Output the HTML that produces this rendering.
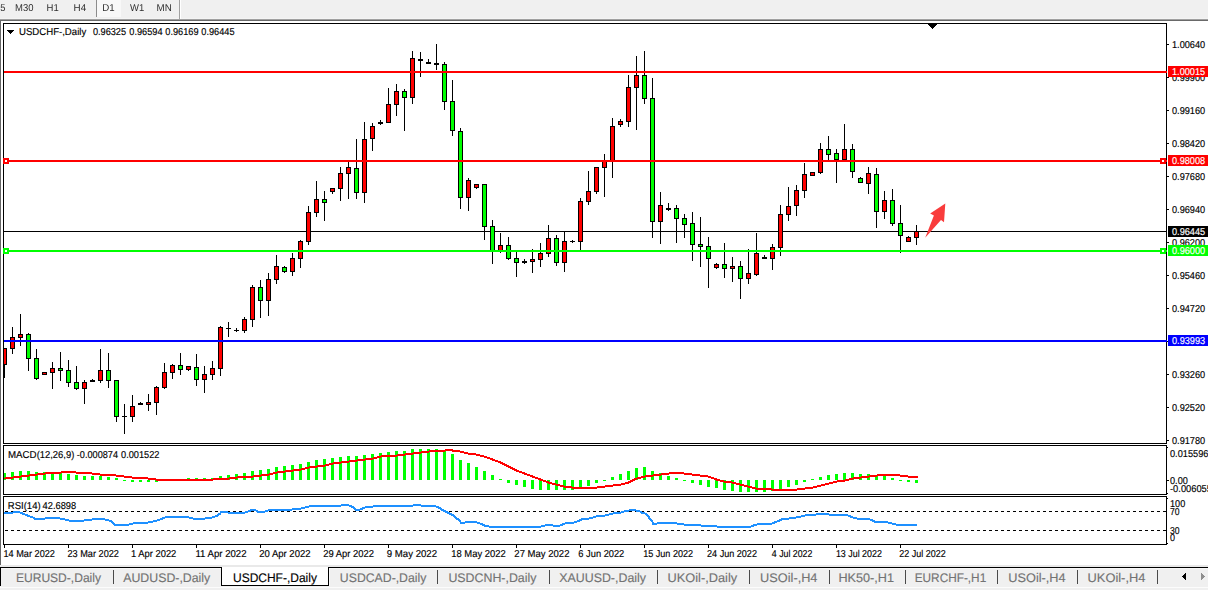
<!DOCTYPE html>
<html><head><meta charset="utf-8"><title>USDCHF-,Daily</title>
<style>
html,body{margin:0;padding:0;background:#fff;}
body{width:1208px;height:590px;overflow:hidden;font-family:"Liberation Sans",sans-serif;}
svg{display:block;}
svg text{font-family:"Liberation Sans",sans-serif;white-space:pre;}
</style></head>
<body>
<svg width="1208" height="590" viewBox="0 0 1208 590" shape-rendering="crispEdges" text-rendering="geometricPrecision">
<defs>
<filter id="gray" x="-5%" y="-20%" width="110%" height="140%" color-interpolation-filters="sRGB"><feColorMatrix type="saturate" values="0"/></filter>
<clipPath id="mainclip"><rect x="4" y="24" width="1162" height="419"/></clipPath>
<clipPath id="macdclip"><rect x="4" y="446" width="1162" height="48"/></clipPath>
<clipPath id="rsiclip"><rect x="4" y="497" width="1162" height="47"/></clipPath>
</defs>
<rect x="0" y="0" width="1208" height="590" fill="#fff"/>
<rect x="0" y="0" width="1208" height="19" fill="#f0f0f0"/>
<rect x="0" y="18" width="1208" height="1" fill="#f4f4f4"/>
<rect x="0" y="19" width="1208" height="1" fill="#a0a0a0"/>
<rect x="0" y="20" width="1208" height="1" fill="#696969"/>
<rect x="97" y="0" width="24" height="17" fill="#f8f8f8"/>
<rect x="96" y="0" width="1" height="17" fill="#8c8c8c"/>
<rect x="179" y="0" width="1" height="19" fill="#a0a0a0"/>
<rect x="180" y="0" width="1" height="19" fill="#fff"/>
<rect x="0" y="21" width="1" height="544" fill="#666"/>
<text x="0.3" y="11" font-size="10" fill="#2e2e2e" textLength="5.2" lengthAdjust="spacingAndGlyphs" filter="url(#gray)">5</text>
<text x="15" y="11" font-size="10" fill="#2e2e2e" textLength="18.4" lengthAdjust="spacingAndGlyphs" filter="url(#gray)">M30</text>
<text x="46.5" y="11" font-size="10" fill="#2e2e2e" textLength="12.2" lengthAdjust="spacingAndGlyphs" filter="url(#gray)">H1</text>
<text x="73.6" y="11" font-size="10" fill="#2e2e2e" textLength="12.6" lengthAdjust="spacingAndGlyphs" filter="url(#gray)">H4</text>
<text x="102.2" y="11" font-size="10" fill="#2e2e2e" textLength="12.4" lengthAdjust="spacingAndGlyphs" filter="url(#gray)">D1</text>
<text x="130.1" y="11" font-size="10" fill="#2e2e2e" textLength="14.2" lengthAdjust="spacingAndGlyphs" filter="url(#gray)">W1</text>
<text x="156.6" y="11" font-size="10" fill="#2e2e2e" textLength="15.2" lengthAdjust="spacingAndGlyphs" filter="url(#gray)">MN</text>
<g clip-path="url(#mainclip)">
<rect x="4" y="231" width="1162" height="1" fill="#000"/>
<rect x="4" y="348" width="1" height="30" fill="#000"/>
<rect x="2" y="348" width="5" height="17" fill="#000"/>
<rect x="3" y="349" width="3" height="15" fill="#f00"/>
<rect x="12" y="327" width="1" height="27" fill="#000"/>
<rect x="10" y="337" width="5" height="12" fill="#000"/>
<rect x="11" y="338" width="3" height="10" fill="#f00"/>
<rect x="20" y="314" width="1" height="32" fill="#000"/>
<rect x="18" y="334" width="5" height="4" fill="#000"/>
<rect x="19" y="335" width="3" height="2" fill="#f00"/>
<rect x="28" y="333" width="1" height="38" fill="#000"/>
<rect x="26" y="334" width="5" height="25" fill="#000"/>
<rect x="27" y="335" width="3" height="23" fill="#0f0"/>
<rect x="36" y="349" width="1" height="31" fill="#000"/>
<rect x="34" y="358" width="5" height="21" fill="#000"/>
<rect x="35" y="359" width="3" height="19" fill="#0f0"/>
<rect x="44" y="372" width="1" height="3" fill="#000"/>
<rect x="42" y="372" width="5" height="3" fill="#000"/>
<rect x="43" y="373" width="3" height="1" fill="#f00"/>
<rect x="52" y="362" width="1" height="27" fill="#000"/>
<rect x="50" y="368" width="5" height="5" fill="#000"/>
<rect x="51" y="369" width="3" height="3" fill="#f00"/>
<rect x="60" y="352" width="1" height="29" fill="#000"/>
<rect x="58" y="368" width="5" height="3" fill="#000"/>
<rect x="59" y="369" width="3" height="1" fill="#0f0"/>
<rect x="68" y="360" width="1" height="27" fill="#000"/>
<rect x="66" y="370" width="5" height="13" fill="#000"/>
<rect x="67" y="371" width="3" height="11" fill="#0f0"/>
<rect x="76" y="366" width="1" height="24" fill="#000"/>
<rect x="74" y="382" width="5" height="7" fill="#000"/>
<rect x="75" y="383" width="3" height="5" fill="#0f0"/>
<rect x="84" y="380" width="1" height="24" fill="#000"/>
<rect x="82" y="382" width="5" height="7" fill="#000"/>
<rect x="83" y="383" width="3" height="5" fill="#f00"/>
<rect x="92" y="379" width="1" height="3" fill="#000"/>
<rect x="90" y="380" width="5" height="2" fill="#000"/>
<rect x="100" y="349" width="1" height="34" fill="#000"/>
<rect x="98" y="370" width="5" height="11" fill="#000"/>
<rect x="99" y="371" width="3" height="9" fill="#f00"/>
<rect x="108" y="353" width="1" height="35" fill="#000"/>
<rect x="106" y="370" width="5" height="11" fill="#000"/>
<rect x="107" y="371" width="3" height="9" fill="#0f0"/>
<rect x="116" y="380" width="1" height="42" fill="#000"/>
<rect x="114" y="380" width="5" height="37" fill="#000"/>
<rect x="115" y="381" width="3" height="35" fill="#0f0"/>
<rect x="124" y="404" width="1" height="30" fill="#000"/>
<rect x="122" y="416" width="5" height="1" fill="#000"/>
<rect x="132" y="395" width="1" height="27" fill="#000"/>
<rect x="130" y="406" width="5" height="11" fill="#000"/>
<rect x="131" y="407" width="3" height="9" fill="#f00"/>
<rect x="140" y="402" width="1" height="3" fill="#000"/>
<rect x="138" y="403" width="5" height="2" fill="#000"/>
<rect x="148" y="394" width="1" height="17" fill="#000"/>
<rect x="146" y="402" width="5" height="3" fill="#000"/>
<rect x="147" y="403" width="3" height="1" fill="#f00"/>
<rect x="156" y="386" width="1" height="29" fill="#000"/>
<rect x="154" y="387" width="5" height="16" fill="#000"/>
<rect x="155" y="388" width="3" height="14" fill="#f00"/>
<rect x="164" y="363" width="1" height="26" fill="#000"/>
<rect x="162" y="372" width="5" height="16" fill="#000"/>
<rect x="163" y="373" width="3" height="14" fill="#f00"/>
<rect x="172" y="364" width="1" height="15" fill="#000"/>
<rect x="170" y="365" width="5" height="8" fill="#000"/>
<rect x="171" y="366" width="3" height="6" fill="#f00"/>
<rect x="180" y="353" width="1" height="22" fill="#000"/>
<rect x="178" y="365" width="5" height="5" fill="#000"/>
<rect x="179" y="366" width="3" height="3" fill="#0f0"/>
<rect x="188" y="366" width="1" height="5" fill="#000"/>
<rect x="186" y="366" width="5" height="4" fill="#000"/>
<rect x="187" y="367" width="3" height="2" fill="#f00"/>
<rect x="196" y="354" width="1" height="32" fill="#000"/>
<rect x="194" y="367" width="5" height="13" fill="#000"/>
<rect x="195" y="368" width="3" height="11" fill="#0f0"/>
<rect x="204" y="366" width="1" height="27" fill="#000"/>
<rect x="202" y="374" width="5" height="6" fill="#000"/>
<rect x="203" y="375" width="3" height="4" fill="#f00"/>
<rect x="212" y="361" width="1" height="19" fill="#000"/>
<rect x="210" y="368" width="5" height="7" fill="#000"/>
<rect x="211" y="369" width="3" height="5" fill="#f00"/>
<rect x="220" y="326" width="1" height="50" fill="#000"/>
<rect x="218" y="327" width="5" height="42" fill="#000"/>
<rect x="219" y="328" width="3" height="40" fill="#f00"/>
<rect x="228" y="322" width="1" height="15" fill="#000"/>
<rect x="226" y="328" width="5" height="1" fill="#000"/>
<rect x="236" y="328" width="1" height="4" fill="#000"/>
<rect x="234" y="330" width="5" height="1" fill="#000"/>
<rect x="244" y="317" width="1" height="16" fill="#000"/>
<rect x="242" y="319" width="5" height="12" fill="#000"/>
<rect x="243" y="320" width="3" height="10" fill="#f00"/>
<rect x="252" y="285" width="1" height="42" fill="#000"/>
<rect x="250" y="287" width="5" height="33" fill="#000"/>
<rect x="251" y="288" width="3" height="31" fill="#f00"/>
<rect x="260" y="280" width="1" height="38" fill="#000"/>
<rect x="258" y="287" width="5" height="14" fill="#000"/>
<rect x="259" y="288" width="3" height="12" fill="#0f0"/>
<rect x="268" y="273" width="1" height="43" fill="#000"/>
<rect x="266" y="279" width="5" height="22" fill="#000"/>
<rect x="267" y="280" width="3" height="20" fill="#f00"/>
<rect x="276" y="255" width="1" height="29" fill="#000"/>
<rect x="274" y="266" width="5" height="14" fill="#000"/>
<rect x="275" y="267" width="3" height="12" fill="#f00"/>
<rect x="284" y="266" width="1" height="7" fill="#000"/>
<rect x="282" y="267" width="5" height="5" fill="#000"/>
<rect x="283" y="268" width="3" height="3" fill="#0f0"/>
<rect x="292" y="253" width="1" height="23" fill="#000"/>
<rect x="290" y="258" width="5" height="14" fill="#000"/>
<rect x="291" y="259" width="3" height="12" fill="#f00"/>
<rect x="300" y="240" width="1" height="28" fill="#000"/>
<rect x="298" y="241" width="5" height="18" fill="#000"/>
<rect x="299" y="242" width="3" height="16" fill="#f00"/>
<rect x="308" y="206" width="1" height="39" fill="#000"/>
<rect x="306" y="212" width="5" height="30" fill="#000"/>
<rect x="307" y="213" width="3" height="28" fill="#f00"/>
<rect x="316" y="181" width="1" height="36" fill="#000"/>
<rect x="314" y="199" width="5" height="14" fill="#000"/>
<rect x="315" y="200" width="3" height="12" fill="#f00"/>
<rect x="324" y="191" width="1" height="30" fill="#000"/>
<rect x="322" y="199" width="5" height="4" fill="#000"/>
<rect x="323" y="200" width="3" height="2" fill="#0f0"/>
<rect x="332" y="188" width="1" height="6" fill="#000"/>
<rect x="330" y="188" width="5" height="4" fill="#000"/>
<rect x="331" y="189" width="3" height="2" fill="#f00"/>
<rect x="340" y="167" width="1" height="34" fill="#000"/>
<rect x="338" y="173" width="5" height="16" fill="#000"/>
<rect x="339" y="174" width="3" height="14" fill="#f00"/>
<rect x="348" y="162" width="1" height="37" fill="#000"/>
<rect x="346" y="167" width="5" height="7" fill="#000"/>
<rect x="347" y="168" width="3" height="5" fill="#f00"/>
<rect x="356" y="139" width="1" height="60" fill="#000"/>
<rect x="354" y="168" width="5" height="25" fill="#000"/>
<rect x="355" y="169" width="3" height="23" fill="#0f0"/>
<rect x="364" y="122" width="1" height="81" fill="#000"/>
<rect x="362" y="139" width="5" height="54" fill="#000"/>
<rect x="363" y="140" width="3" height="52" fill="#f00"/>
<rect x="372" y="123" width="1" height="28" fill="#000"/>
<rect x="370" y="126" width="5" height="13" fill="#000"/>
<rect x="371" y="127" width="3" height="11" fill="#f00"/>
<rect x="380" y="120" width="1" height="5" fill="#000"/>
<rect x="378" y="122" width="5" height="2" fill="#000"/>
<rect x="388" y="88" width="1" height="35" fill="#000"/>
<rect x="386" y="104" width="5" height="19" fill="#000"/>
<rect x="387" y="105" width="3" height="17" fill="#f00"/>
<rect x="396" y="84" width="1" height="32" fill="#000"/>
<rect x="394" y="91" width="5" height="14" fill="#000"/>
<rect x="395" y="92" width="3" height="12" fill="#f00"/>
<rect x="404" y="89" width="1" height="42" fill="#000"/>
<rect x="402" y="91" width="5" height="7" fill="#000"/>
<rect x="403" y="92" width="3" height="5" fill="#0f0"/>
<rect x="412" y="51" width="1" height="53" fill="#000"/>
<rect x="410" y="58" width="5" height="40" fill="#000"/>
<rect x="411" y="59" width="3" height="38" fill="#f00"/>
<rect x="420" y="52" width="1" height="25" fill="#000"/>
<rect x="418" y="59" width="5" height="2" fill="#000"/>
<rect x="428" y="59" width="1" height="5" fill="#000"/>
<rect x="426" y="62" width="5" height="2" fill="#000"/>
<rect x="436" y="44" width="1" height="26" fill="#000"/>
<rect x="434" y="63" width="5" height="2" fill="#000"/>
<rect x="444" y="62" width="1" height="48" fill="#000"/>
<rect x="442" y="64" width="5" height="38" fill="#000"/>
<rect x="443" y="65" width="3" height="36" fill="#0f0"/>
<rect x="452" y="80" width="1" height="56" fill="#000"/>
<rect x="450" y="101" width="5" height="30" fill="#000"/>
<rect x="451" y="102" width="3" height="28" fill="#0f0"/>
<rect x="460" y="128" width="1" height="81" fill="#000"/>
<rect x="458" y="131" width="5" height="67" fill="#000"/>
<rect x="459" y="132" width="3" height="65" fill="#0f0"/>
<rect x="468" y="178" width="1" height="33" fill="#000"/>
<rect x="466" y="180" width="5" height="18" fill="#000"/>
<rect x="467" y="181" width="3" height="16" fill="#f00"/>
<rect x="476" y="184" width="1" height="5" fill="#000"/>
<rect x="474" y="184" width="5" height="4" fill="#000"/>
<rect x="475" y="185" width="3" height="2" fill="#f00"/>
<rect x="484" y="184" width="1" height="56" fill="#000"/>
<rect x="482" y="184" width="5" height="43" fill="#000"/>
<rect x="483" y="185" width="3" height="41" fill="#0f0"/>
<rect x="492" y="220" width="1" height="44" fill="#000"/>
<rect x="490" y="226" width="5" height="25" fill="#000"/>
<rect x="491" y="227" width="3" height="23" fill="#0f0"/>
<rect x="500" y="233" width="1" height="20" fill="#000"/>
<rect x="498" y="245" width="5" height="6" fill="#000"/>
<rect x="499" y="246" width="3" height="4" fill="#f00"/>
<rect x="508" y="237" width="1" height="23" fill="#000"/>
<rect x="506" y="245" width="5" height="14" fill="#000"/>
<rect x="507" y="246" width="3" height="12" fill="#0f0"/>
<rect x="516" y="252" width="1" height="25" fill="#000"/>
<rect x="514" y="258" width="5" height="5" fill="#000"/>
<rect x="515" y="259" width="3" height="3" fill="#0f0"/>
<rect x="524" y="259" width="1" height="5" fill="#000"/>
<rect x="522" y="261" width="5" height="2" fill="#000"/>
<rect x="532" y="249" width="1" height="24" fill="#000"/>
<rect x="530" y="259" width="5" height="3" fill="#000"/>
<rect x="531" y="260" width="3" height="1" fill="#f00"/>
<rect x="540" y="243" width="1" height="24" fill="#000"/>
<rect x="538" y="253" width="5" height="7" fill="#000"/>
<rect x="539" y="254" width="3" height="5" fill="#f00"/>
<rect x="548" y="225" width="1" height="32" fill="#000"/>
<rect x="546" y="238" width="5" height="16" fill="#000"/>
<rect x="547" y="239" width="3" height="14" fill="#f00"/>
<rect x="556" y="235" width="1" height="31" fill="#000"/>
<rect x="554" y="238" width="5" height="25" fill="#000"/>
<rect x="555" y="239" width="3" height="23" fill="#0f0"/>
<rect x="564" y="232" width="1" height="40" fill="#000"/>
<rect x="562" y="241" width="5" height="22" fill="#000"/>
<rect x="563" y="242" width="3" height="20" fill="#f00"/>
<rect x="572" y="240" width="1" height="3" fill="#000"/>
<rect x="570" y="241" width="5" height="1" fill="#000"/>
<rect x="580" y="198" width="1" height="52" fill="#000"/>
<rect x="578" y="201" width="5" height="41" fill="#000"/>
<rect x="579" y="202" width="3" height="39" fill="#f00"/>
<rect x="588" y="171" width="1" height="34" fill="#000"/>
<rect x="586" y="191" width="5" height="11" fill="#000"/>
<rect x="587" y="192" width="3" height="9" fill="#f00"/>
<rect x="596" y="167" width="1" height="27" fill="#000"/>
<rect x="594" y="167" width="5" height="25" fill="#000"/>
<rect x="595" y="168" width="3" height="23" fill="#f00"/>
<rect x="604" y="154" width="1" height="43" fill="#000"/>
<rect x="602" y="160" width="5" height="8" fill="#000"/>
<rect x="603" y="161" width="3" height="6" fill="#f00"/>
<rect x="612" y="118" width="1" height="60" fill="#000"/>
<rect x="610" y="126" width="5" height="36" fill="#000"/>
<rect x="611" y="127" width="3" height="34" fill="#f00"/>
<rect x="620" y="119" width="1" height="8" fill="#000"/>
<rect x="618" y="121" width="5" height="4" fill="#000"/>
<rect x="619" y="122" width="3" height="2" fill="#f00"/>
<rect x="628" y="75" width="1" height="52" fill="#000"/>
<rect x="626" y="87" width="5" height="35" fill="#000"/>
<rect x="627" y="88" width="3" height="33" fill="#f00"/>
<rect x="636" y="56" width="1" height="74" fill="#000"/>
<rect x="634" y="75" width="5" height="13" fill="#000"/>
<rect x="635" y="76" width="3" height="11" fill="#f00"/>
<rect x="644" y="51" width="1" height="53" fill="#000"/>
<rect x="642" y="75" width="5" height="24" fill="#000"/>
<rect x="643" y="76" width="3" height="22" fill="#0f0"/>
<rect x="652" y="78" width="1" height="160" fill="#000"/>
<rect x="650" y="98" width="5" height="124" fill="#000"/>
<rect x="651" y="99" width="3" height="122" fill="#0f0"/>
<rect x="660" y="192" width="1" height="52" fill="#000"/>
<rect x="658" y="205" width="5" height="17" fill="#000"/>
<rect x="659" y="206" width="3" height="15" fill="#f00"/>
<rect x="668" y="203" width="1" height="8" fill="#000"/>
<rect x="666" y="208" width="5" height="2" fill="#000"/>
<rect x="676" y="205" width="1" height="38" fill="#000"/>
<rect x="674" y="208" width="5" height="11" fill="#000"/>
<rect x="675" y="209" width="3" height="9" fill="#0f0"/>
<rect x="684" y="214" width="1" height="24" fill="#000"/>
<rect x="682" y="218" width="5" height="7" fill="#000"/>
<rect x="683" y="219" width="3" height="5" fill="#0f0"/>
<rect x="692" y="212" width="1" height="49" fill="#000"/>
<rect x="690" y="223" width="5" height="22" fill="#000"/>
<rect x="691" y="224" width="3" height="20" fill="#0f0"/>
<rect x="700" y="217" width="1" height="50" fill="#000"/>
<rect x="698" y="244" width="5" height="3" fill="#000"/>
<rect x="699" y="245" width="3" height="1" fill="#0f0"/>
<rect x="708" y="237" width="1" height="51" fill="#000"/>
<rect x="706" y="246" width="5" height="13" fill="#000"/>
<rect x="707" y="247" width="3" height="11" fill="#0f0"/>
<rect x="716" y="263" width="1" height="6" fill="#000"/>
<rect x="714" y="264" width="5" height="4" fill="#000"/>
<rect x="715" y="265" width="3" height="2" fill="#f00"/>
<rect x="724" y="243" width="1" height="35" fill="#000"/>
<rect x="722" y="264" width="5" height="5" fill="#000"/>
<rect x="723" y="265" width="3" height="3" fill="#0f0"/>
<rect x="732" y="257" width="1" height="25" fill="#000"/>
<rect x="730" y="266" width="5" height="3" fill="#000"/>
<rect x="731" y="267" width="3" height="1" fill="#f00"/>
<rect x="740" y="261" width="1" height="38" fill="#000"/>
<rect x="738" y="266" width="5" height="13" fill="#000"/>
<rect x="739" y="267" width="3" height="11" fill="#0f0"/>
<rect x="748" y="249" width="1" height="35" fill="#000"/>
<rect x="746" y="273" width="5" height="6" fill="#000"/>
<rect x="747" y="274" width="3" height="4" fill="#f00"/>
<rect x="756" y="233" width="1" height="43" fill="#000"/>
<rect x="754" y="253" width="5" height="22" fill="#000"/>
<rect x="755" y="254" width="3" height="20" fill="#f00"/>
<rect x="764" y="255" width="1" height="4" fill="#000"/>
<rect x="762" y="257" width="5" height="2" fill="#000"/>
<rect x="772" y="244" width="1" height="26" fill="#000"/>
<rect x="770" y="247" width="5" height="12" fill="#000"/>
<rect x="771" y="248" width="3" height="10" fill="#f00"/>
<rect x="780" y="205" width="1" height="51" fill="#000"/>
<rect x="778" y="214" width="5" height="34" fill="#000"/>
<rect x="779" y="215" width="3" height="32" fill="#f00"/>
<rect x="788" y="187" width="1" height="34" fill="#000"/>
<rect x="786" y="206" width="5" height="9" fill="#000"/>
<rect x="787" y="207" width="3" height="7" fill="#f00"/>
<rect x="796" y="185" width="1" height="31" fill="#000"/>
<rect x="794" y="190" width="5" height="16" fill="#000"/>
<rect x="795" y="191" width="3" height="14" fill="#f00"/>
<rect x="804" y="163" width="1" height="35" fill="#000"/>
<rect x="802" y="174" width="5" height="17" fill="#000"/>
<rect x="803" y="175" width="3" height="15" fill="#f00"/>
<rect x="812" y="172" width="1" height="4" fill="#000"/>
<rect x="810" y="172" width="5" height="4" fill="#000"/>
<rect x="811" y="173" width="3" height="2" fill="#f00"/>
<rect x="820" y="143" width="1" height="31" fill="#000"/>
<rect x="818" y="149" width="5" height="24" fill="#000"/>
<rect x="819" y="150" width="3" height="22" fill="#f00"/>
<rect x="828" y="136" width="1" height="24" fill="#000"/>
<rect x="826" y="149" width="5" height="6" fill="#000"/>
<rect x="827" y="150" width="3" height="4" fill="#0f0"/>
<rect x="836" y="149" width="1" height="34" fill="#000"/>
<rect x="834" y="153" width="5" height="7" fill="#000"/>
<rect x="835" y="154" width="3" height="5" fill="#0f0"/>
<rect x="844" y="124" width="1" height="36" fill="#000"/>
<rect x="842" y="149" width="5" height="11" fill="#000"/>
<rect x="843" y="150" width="3" height="9" fill="#f00"/>
<rect x="852" y="144" width="1" height="34" fill="#000"/>
<rect x="850" y="149" width="5" height="23" fill="#000"/>
<rect x="851" y="150" width="3" height="21" fill="#0f0"/>
<rect x="860" y="177" width="1" height="6" fill="#000"/>
<rect x="858" y="178" width="5" height="5" fill="#000"/>
<rect x="859" y="179" width="3" height="3" fill="#0f0"/>
<rect x="868" y="167" width="1" height="27" fill="#000"/>
<rect x="866" y="173" width="5" height="11" fill="#000"/>
<rect x="867" y="174" width="3" height="9" fill="#f00"/>
<rect x="876" y="168" width="1" height="60" fill="#000"/>
<rect x="874" y="174" width="5" height="38" fill="#000"/>
<rect x="875" y="175" width="3" height="36" fill="#0f0"/>
<rect x="884" y="191" width="1" height="28" fill="#000"/>
<rect x="882" y="200" width="5" height="12" fill="#000"/>
<rect x="883" y="201" width="3" height="10" fill="#f00"/>
<rect x="892" y="189" width="1" height="37" fill="#000"/>
<rect x="890" y="200" width="5" height="24" fill="#000"/>
<rect x="891" y="201" width="3" height="22" fill="#0f0"/>
<rect x="900" y="205" width="1" height="48" fill="#000"/>
<rect x="898" y="223" width="5" height="13" fill="#000"/>
<rect x="899" y="224" width="3" height="11" fill="#0f0"/>
<rect x="908" y="236" width="1" height="6" fill="#000"/>
<rect x="906" y="237" width="5" height="5" fill="#000"/>
<rect x="907" y="238" width="3" height="3" fill="#f00"/>
<rect x="916" y="225" width="1" height="20" fill="#000"/>
<rect x="914" y="231" width="5" height="7" fill="#000"/>
<rect x="915" y="232" width="3" height="5" fill="#f00"/>
<polygon points="945.3,203.6 944,222.2 941,220 925.2,237.8 933.9,215.6 930.2,213.6" fill="#f93c3c" shape-rendering="geometricPrecision"/>
</g>
<rect x="3" y="23" width="1164" height="1" fill="#000"/>
<rect x="3" y="443" width="1164" height="1" fill="#000"/>
<rect x="3" y="23" width="1" height="421" fill="#000"/>
<rect x="1166" y="23" width="1" height="421" fill="#000"/>
<rect x="3" y="445" width="1164" height="1" fill="#000"/>
<rect x="3" y="494" width="1164" height="1" fill="#000"/>
<rect x="3" y="445" width="1" height="50" fill="#000"/>
<rect x="1166" y="445" width="1" height="50" fill="#000"/>
<rect x="3" y="496" width="1164" height="1" fill="#000"/>
<rect x="3" y="544" width="1164" height="1" fill="#000"/>
<rect x="3" y="496" width="1" height="49" fill="#000"/>
<rect x="1166" y="496" width="1" height="49" fill="#000"/>
<rect x="4" y="71" width="1163" height="2" fill="#f00"/>
<rect x="4" y="160" width="1163" height="2" fill="#f00"/>
<rect x="4" y="250" width="1163" height="2" fill="#0f0"/>
<rect x="4" y="340" width="1163" height="2" fill="#00f"/>
<rect x="1160" y="158" width="6" height="6" fill="#f00"/>
<rect x="1162" y="160" width="2" height="2" fill="#fff"/>
<rect x="1160" y="248" width="6" height="6" fill="#0f0"/>
<rect x="1162" y="250" width="2" height="2" fill="#fff"/>
<rect x="3" y="158" width="6" height="6" fill="#f00"/>
<rect x="5" y="160" width="2" height="2" fill="#fff"/>
<rect x="3" y="248" width="6" height="6" fill="#0f0"/>
<rect x="5" y="250" width="2" height="2" fill="#fff"/>
<rect x="928" y="24" width="9" height="1" fill="#000"/>
<rect x="929" y="25" width="7" height="1" fill="#000"/>
<rect x="930" y="26" width="5" height="1" fill="#000"/>
<rect x="931" y="27" width="3" height="1" fill="#000"/>
<rect x="932" y="28" width="1" height="1" fill="#000"/>
<rect x="7" y="30" width="7" height="1" fill="#000"/>
<rect x="8" y="31" width="5" height="1" fill="#000"/>
<rect x="9" y="32" width="3" height="1" fill="#000"/>
<rect x="10" y="33" width="1" height="1" fill="#000"/>
<text x="19" y="35" font-size="10" fill="#000" stroke="#000" stroke-width="0.15" textLength="67.2" lengthAdjust="spacingAndGlyphs">USDCHF-,Daily</text>
<text x="92.9" y="35" font-size="10" fill="#000" stroke="#000" stroke-width="0.15" textLength="33.2" lengthAdjust="spacingAndGlyphs">0.96325</text>
<text x="129.3" y="35" font-size="10" fill="#000" stroke="#000" stroke-width="0.15" textLength="33.2" lengthAdjust="spacingAndGlyphs">0.96594</text>
<text x="165.3" y="35" font-size="10" fill="#000" stroke="#000" stroke-width="0.15" textLength="33.2" lengthAdjust="spacingAndGlyphs">0.96169</text>
<text x="201.3" y="35" font-size="10" fill="#000" stroke="#000" stroke-width="0.15" textLength="33.2" lengthAdjust="spacingAndGlyphs">0.96445</text>
<rect x="1167" y="44" width="2" height="1" fill="#000"/>
<text x="1172" y="48" font-size="10" fill="#000" stroke="#000" stroke-width="0.15" textLength="33.2" lengthAdjust="spacingAndGlyphs">1.00640</text>
<rect x="1167" y="77" width="2" height="1" fill="#000"/>
<text x="1172" y="81" font-size="10" fill="#000" stroke="#000" stroke-width="0.15" textLength="33.2" lengthAdjust="spacingAndGlyphs">0.99900</text>
<rect x="1167" y="110" width="2" height="1" fill="#000"/>
<text x="1172" y="114" font-size="10" fill="#000" stroke="#000" stroke-width="0.15" textLength="33.2" lengthAdjust="spacingAndGlyphs">0.99160</text>
<rect x="1167" y="143" width="2" height="1" fill="#000"/>
<text x="1172" y="147" font-size="10" fill="#000" stroke="#000" stroke-width="0.15" textLength="33.2" lengthAdjust="spacingAndGlyphs">0.98420</text>
<rect x="1167" y="176" width="2" height="1" fill="#000"/>
<text x="1172" y="180" font-size="10" fill="#000" stroke="#000" stroke-width="0.15" textLength="33.2" lengthAdjust="spacingAndGlyphs">0.97680</text>
<rect x="1167" y="209" width="2" height="1" fill="#000"/>
<text x="1172" y="213" font-size="10" fill="#000" stroke="#000" stroke-width="0.15" textLength="33.2" lengthAdjust="spacingAndGlyphs">0.96940</text>
<rect x="1167" y="242" width="2" height="1" fill="#000"/>
<text x="1172" y="246" font-size="10" fill="#000" stroke="#000" stroke-width="0.15" textLength="33.2" lengthAdjust="spacingAndGlyphs">0.96200</text>
<rect x="1167" y="275" width="2" height="1" fill="#000"/>
<text x="1172" y="279" font-size="10" fill="#000" stroke="#000" stroke-width="0.15" textLength="33.2" lengthAdjust="spacingAndGlyphs">0.95460</text>
<rect x="1167" y="308" width="2" height="1" fill="#000"/>
<text x="1172" y="312" font-size="10" fill="#000" stroke="#000" stroke-width="0.15" textLength="33.2" lengthAdjust="spacingAndGlyphs">0.94720</text>
<rect x="1167" y="341" width="2" height="1" fill="#000"/>
<text x="1172" y="345" font-size="10" fill="#000" stroke="#000" stroke-width="0.15" textLength="33.2" lengthAdjust="spacingAndGlyphs">0.93980</text>
<rect x="1167" y="374" width="2" height="1" fill="#000"/>
<text x="1172" y="378" font-size="10" fill="#000" stroke="#000" stroke-width="0.15" textLength="33.2" lengthAdjust="spacingAndGlyphs">0.93260</text>
<rect x="1167" y="407" width="2" height="1" fill="#000"/>
<text x="1172" y="411" font-size="10" fill="#000" stroke="#000" stroke-width="0.15" textLength="33.2" lengthAdjust="spacingAndGlyphs">0.92520</text>
<rect x="1167" y="440" width="2" height="1" fill="#000"/>
<text x="1172" y="444" font-size="10" fill="#000" stroke="#000" stroke-width="0.15" textLength="33.2" lengthAdjust="spacingAndGlyphs">0.91780</text>
<rect x="1168" y="66" width="40" height="11" fill="#f00"/>
<text x="1172" y="75" font-size="10" fill="#fff" stroke="#fff" stroke-width="0.15" textLength="33.2" lengthAdjust="spacingAndGlyphs">1.00015</text>
<rect x="1168" y="155" width="40" height="11" fill="#f00"/>
<text x="1172" y="164" font-size="10" fill="#fff" stroke="#fff" stroke-width="0.15" textLength="33.2" lengthAdjust="spacingAndGlyphs">0.98008</text>
<rect x="1168" y="226" width="40" height="11" fill="#000"/>
<text x="1172" y="235" font-size="10" fill="#fff" stroke="#fff" stroke-width="0.15" textLength="33.2" lengthAdjust="spacingAndGlyphs">0.96445</text>
<rect x="1168" y="245" width="40" height="11" fill="#0f0"/>
<text x="1172" y="254" font-size="10" fill="#fff" stroke="#fff" stroke-width="0.15" textLength="33.2" lengthAdjust="spacingAndGlyphs">0.96000</text>
<rect x="1168" y="335" width="40" height="11" fill="#00f"/>
<text x="1172" y="344" font-size="10" fill="#fff" stroke="#fff" stroke-width="0.15" textLength="33.2" lengthAdjust="spacingAndGlyphs">0.93993</text>
<text x="8" y="458" font-size="10" fill="#000" stroke="#000" stroke-width="0.15" textLength="28.6" lengthAdjust="spacingAndGlyphs">MACD</text>
<text x="36.7" y="458" font-size="10" fill="#000" stroke="#000" stroke-width="0.15" textLength="37.6" lengthAdjust="spacingAndGlyphs">(12,26,9)</text>
<text x="76.8" y="458" font-size="10" fill="#000" stroke="#000" stroke-width="0.15" textLength="41.2" lengthAdjust="spacingAndGlyphs">-0.000874</text>
<text x="121" y="458" font-size="10" fill="#000" stroke="#000" stroke-width="0.15" textLength="38.5" lengthAdjust="spacingAndGlyphs">0.001522</text>
<g clip-path="url(#macdclip)">
<rect x="3" y="473" width="3" height="7" fill="#0f0"/>
<rect x="11" y="472" width="3" height="8" fill="#0f0"/>
<rect x="19" y="471" width="3" height="9" fill="#0f0"/>
<rect x="27" y="471" width="3" height="9" fill="#0f0"/>
<rect x="35" y="472" width="3" height="8" fill="#0f0"/>
<rect x="43" y="472" width="3" height="8" fill="#0f0"/>
<rect x="51" y="473" width="3" height="7" fill="#0f0"/>
<rect x="59" y="473" width="3" height="7" fill="#0f0"/>
<rect x="67" y="474" width="3" height="6" fill="#0f0"/>
<rect x="75" y="475" width="3" height="5" fill="#0f0"/>
<rect x="83" y="476" width="3" height="4" fill="#0f0"/>
<rect x="91" y="476" width="3" height="4" fill="#0f0"/>
<rect x="99" y="476" width="3" height="4" fill="#0f0"/>
<rect x="107" y="477" width="3" height="3" fill="#0f0"/>
<rect x="115" y="478" width="3" height="2" fill="#0f0"/>
<rect x="123" y="480" width="3" height="1" fill="#0f0"/>
<rect x="131" y="480" width="3" height="2" fill="#0f0"/>
<rect x="139" y="480" width="3" height="2" fill="#0f0"/>
<rect x="147" y="480" width="3" height="2" fill="#0f0"/>
<rect x="155" y="480" width="3" height="2" fill="#0f0"/>
<rect x="187" y="478" width="3" height="2" fill="#0f0"/>
<rect x="195" y="478" width="3" height="2" fill="#0f0"/>
<rect x="203" y="478" width="3" height="2" fill="#0f0"/>
<rect x="211" y="478" width="3" height="2" fill="#0f0"/>
<rect x="219" y="476" width="3" height="4" fill="#0f0"/>
<rect x="227" y="475" width="3" height="5" fill="#0f0"/>
<rect x="235" y="474" width="3" height="6" fill="#0f0"/>
<rect x="243" y="473" width="3" height="7" fill="#0f0"/>
<rect x="251" y="471" width="3" height="9" fill="#0f0"/>
<rect x="259" y="470" width="3" height="10" fill="#0f0"/>
<rect x="267" y="469" width="3" height="11" fill="#0f0"/>
<rect x="275" y="467" width="3" height="13" fill="#0f0"/>
<rect x="283" y="466" width="3" height="14" fill="#0f0"/>
<rect x="291" y="465" width="3" height="15" fill="#0f0"/>
<rect x="299" y="464" width="3" height="16" fill="#0f0"/>
<rect x="307" y="462" width="3" height="18" fill="#0f0"/>
<rect x="315" y="460" width="3" height="20" fill="#0f0"/>
<rect x="323" y="459" width="3" height="21" fill="#0f0"/>
<rect x="331" y="458" width="3" height="22" fill="#0f0"/>
<rect x="339" y="457" width="3" height="23" fill="#0f0"/>
<rect x="347" y="456" width="3" height="24" fill="#0f0"/>
<rect x="355" y="456" width="3" height="24" fill="#0f0"/>
<rect x="363" y="455" width="3" height="25" fill="#0f0"/>
<rect x="371" y="454" width="3" height="26" fill="#0f0"/>
<rect x="379" y="453" width="3" height="27" fill="#0f0"/>
<rect x="387" y="452" width="3" height="28" fill="#0f0"/>
<rect x="395" y="451" width="3" height="29" fill="#0f0"/>
<rect x="403" y="451" width="3" height="29" fill="#0f0"/>
<rect x="411" y="449" width="3" height="31" fill="#0f0"/>
<rect x="419" y="449" width="3" height="31" fill="#0f0"/>
<rect x="427" y="449" width="3" height="31" fill="#0f0"/>
<rect x="435" y="449" width="3" height="31" fill="#0f0"/>
<rect x="443" y="450" width="3" height="30" fill="#0f0"/>
<rect x="451" y="454" width="3" height="26" fill="#0f0"/>
<rect x="459" y="460" width="3" height="20" fill="#0f0"/>
<rect x="467" y="463" width="3" height="17" fill="#0f0"/>
<rect x="475" y="467" width="3" height="13" fill="#0f0"/>
<rect x="483" y="471" width="3" height="9" fill="#0f0"/>
<rect x="491" y="475" width="3" height="5" fill="#0f0"/>
<rect x="499" y="479" width="3" height="1" fill="#0f0"/>
<rect x="507" y="480" width="3" height="3" fill="#0f0"/>
<rect x="515" y="480" width="3" height="5" fill="#0f0"/>
<rect x="523" y="480" width="3" height="7" fill="#0f0"/>
<rect x="531" y="480" width="3" height="9" fill="#0f0"/>
<rect x="539" y="480" width="3" height="10" fill="#0f0"/>
<rect x="547" y="480" width="3" height="10" fill="#0f0"/>
<rect x="555" y="480" width="3" height="10" fill="#0f0"/>
<rect x="563" y="480" width="3" height="10" fill="#0f0"/>
<rect x="571" y="480" width="3" height="10" fill="#0f0"/>
<rect x="579" y="480" width="3" height="7" fill="#0f0"/>
<rect x="587" y="480" width="3" height="6" fill="#0f0"/>
<rect x="595" y="480" width="3" height="3" fill="#0f0"/>
<rect x="603" y="480" width="3" height="1" fill="#0f0"/>
<rect x="611" y="477" width="3" height="3" fill="#0f0"/>
<rect x="619" y="474" width="3" height="6" fill="#0f0"/>
<rect x="627" y="471" width="3" height="9" fill="#0f0"/>
<rect x="635" y="468" width="3" height="12" fill="#0f0"/>
<rect x="643" y="467" width="3" height="13" fill="#0f0"/>
<rect x="651" y="471" width="3" height="9" fill="#0f0"/>
<rect x="659" y="473" width="3" height="7" fill="#0f0"/>
<rect x="667" y="476" width="3" height="4" fill="#0f0"/>
<rect x="675" y="478" width="3" height="2" fill="#0f0"/>
<rect x="683" y="480" width="3" height="1" fill="#0f0"/>
<rect x="691" y="480" width="3" height="3" fill="#0f0"/>
<rect x="699" y="480" width="3" height="5" fill="#0f0"/>
<rect x="707" y="480" width="3" height="7" fill="#0f0"/>
<rect x="715" y="480" width="3" height="8" fill="#0f0"/>
<rect x="723" y="480" width="3" height="10" fill="#0f0"/>
<rect x="731" y="480" width="3" height="11" fill="#0f0"/>
<rect x="739" y="480" width="3" height="12" fill="#0f0"/>
<rect x="747" y="480" width="3" height="12" fill="#0f0"/>
<rect x="755" y="480" width="3" height="12" fill="#0f0"/>
<rect x="763" y="480" width="3" height="12" fill="#0f0"/>
<rect x="771" y="480" width="3" height="11" fill="#0f0"/>
<rect x="779" y="480" width="3" height="9" fill="#0f0"/>
<rect x="787" y="480" width="3" height="7" fill="#0f0"/>
<rect x="795" y="480" width="3" height="5" fill="#0f0"/>
<rect x="803" y="480" width="3" height="2" fill="#0f0"/>
<rect x="811" y="479" width="3" height="1" fill="#0f0"/>
<rect x="819" y="477" width="3" height="3" fill="#0f0"/>
<rect x="827" y="475" width="3" height="5" fill="#0f0"/>
<rect x="835" y="474" width="3" height="6" fill="#0f0"/>
<rect x="843" y="473" width="3" height="7" fill="#0f0"/>
<rect x="851" y="473" width="3" height="7" fill="#0f0"/>
<rect x="859" y="474" width="3" height="6" fill="#0f0"/>
<rect x="867" y="474" width="3" height="6" fill="#0f0"/>
<rect x="875" y="475" width="3" height="5" fill="#0f0"/>
<rect x="883" y="476" width="3" height="4" fill="#0f0"/>
<rect x="891" y="478" width="3" height="2" fill="#0f0"/>
<rect x="899" y="480" width="3" height="1" fill="#0f0"/>
<rect x="907" y="480" width="3" height="2" fill="#0f0"/>
<rect x="915" y="480" width="3" height="3" fill="#0f0"/>
<polyline points="4.5,478.55 12.5,477.55 20.5,476.55 28.5,475.55 36.5,474.55 44.5,473.55 52.5,472.55 60.5,472.55 68.5,471.55 76.5,472.55 84.5,472.55 92.5,473.55 100.5,474.55 108.5,474.55 116.5,475.55 124.5,476.55 132.5,477.55 140.5,477.55 148.5,478.55 156.5,479.55 164.5,479.55 172.5,479.55 180.5,479.55 188.5,479.55 196.5,479.55 204.5,479.55 212.5,479.55 220.5,478.55 228.5,478.55 236.5,477.55 244.5,476.55 252.5,476.55 260.5,475.55 268.5,474.55 276.5,472.55 284.5,471.55 292.5,470.55 300.5,469.55 308.5,467.55 316.5,466.55 324.5,465.55 332.5,463.55 340.5,462.55 348.5,461.55 356.5,460.55 364.5,459.55 372.5,458.55 380.5,456.55 388.5,455.55 396.5,455.55 404.5,454.55 412.5,453.55 420.5,452.55 428.5,451.55 436.5,450.55 444.5,450.55 452.5,449.55 452.6,450.55 460.5,451.55 468.5,453.55 476.5,454.55 484.5,456.55 492.5,459.55 500.5,462.55 508.5,466.55 516.5,470.55 524.5,473.55 532.5,476.55 540.5,479.55 548.5,482.55 556.5,484.55 564.5,486.55 572.5,487.55 580.5,487.55 588.5,487.55 596.5,487.55 604.5,486.55 612.5,485.55 620.5,484.55 628.5,482.55 636.5,478.55 644.5,476.55 652.5,475.55 660.5,474.55 668.5,473.55 676.5,472.55 684.5,473.55 692.5,474.55 700.5,475.55 708.5,476.55 716.5,479.55 724.5,481.55 732.5,482.55 740.5,484.55 748.5,486.55 756.5,488.55 764.5,488.55 772.5,489.55 780.5,489.55 788.5,489.55 796.5,489.55 804.5,488.55 812.5,487.55 820.5,485.55 828.5,483.55 836.5,481.55 844.5,480.55 852.5,478.55 860.5,477.55 868.5,476.55 876.5,475.55 884.5,474.55 892.5,474.55 900.5,475.55 908.5,476.55 916.5,476.55 917.5,476.55" fill="none" stroke="#f00" stroke-width="2" stroke-linejoin="round"/>
</g>
<rect x="1167" y="480" width="2" height="1" fill="#000"/>
<rect x="1167" y="447" width="1" height="1" fill="#000"/>
<rect x="1167" y="493" width="1" height="1" fill="#000"/>
<text x="1170" y="457" font-size="10" fill="#000" stroke="#000" stroke-width="0.15" textLength="38.4" lengthAdjust="spacingAndGlyphs">0.015596</text>
<text x="1170" y="484" font-size="10" fill="#000" stroke="#000" stroke-width="0.15" textLength="17.8" lengthAdjust="spacingAndGlyphs">0.00</text>
<text x="1170" y="492" font-size="10" fill="#000" stroke="#000" stroke-width="0.15" textLength="42" lengthAdjust="spacingAndGlyphs">-0.006055</text>
<g clip-path="url(#rsiclip)">
<path d="M5 511.5H1166" stroke="#000" stroke-width="1" stroke-dasharray="3 3" stroke-dashoffset="0" fill="none"/>
<path d="M5 530.5H1166" stroke="#000" stroke-width="1" stroke-dasharray="3 3" stroke-dashoffset="0" fill="none"/>
<rect x="4" y="512" width="9" height="2" fill="#1e90ff"/>
<rect x="13" y="511" width="7" height="2" fill="#1e90ff"/>
<rect x="20" y="512" width="3" height="2" fill="#1e90ff"/>
<rect x="22" y="513" width="3" height="2" fill="#1e90ff"/>
<rect x="25" y="514" width="3" height="2" fill="#1e90ff"/>
<rect x="27" y="515" width="3" height="2" fill="#1e90ff"/>
<rect x="30" y="516" width="3" height="2" fill="#1e90ff"/>
<rect x="33" y="517" width="2" height="2" fill="#1e90ff"/>
<rect x="34" y="518" width="11" height="2" fill="#1e90ff"/>
<rect x="45" y="517" width="15" height="2" fill="#1e90ff"/>
<rect x="60" y="518" width="5" height="2" fill="#1e90ff"/>
<rect x="65" y="519" width="4" height="2" fill="#1e90ff"/>
<rect x="69" y="520" width="15" height="2" fill="#1e90ff"/>
<rect x="84" y="519" width="8" height="2" fill="#1e90ff"/>
<rect x="92" y="518" width="13" height="2" fill="#1e90ff"/>
<rect x="105" y="519" width="4" height="2" fill="#1e90ff"/>
<rect x="109" y="520" width="3" height="2" fill="#1e90ff"/>
<rect x="111" y="521" width="2" height="2" fill="#1e90ff"/>
<rect x="112" y="522" width="2" height="2" fill="#1e90ff"/>
<rect x="113" y="523" width="2" height="2" fill="#1e90ff"/>
<rect x="114" y="524" width="15" height="2" fill="#1e90ff"/>
<rect x="129" y="523" width="4" height="2" fill="#1e90ff"/>
<rect x="133" y="522" width="15" height="2" fill="#1e90ff"/>
<rect x="148" y="521" width="5" height="2" fill="#1e90ff"/>
<rect x="153" y="520" width="4" height="2" fill="#1e90ff"/>
<rect x="157" y="519" width="3" height="2" fill="#1e90ff"/>
<rect x="160" y="518" width="3" height="2" fill="#1e90ff"/>
<rect x="162" y="517" width="3" height="2" fill="#1e90ff"/>
<rect x="165" y="516" width="24" height="2" fill="#1e90ff"/>
<rect x="189" y="517" width="4" height="2" fill="#1e90ff"/>
<rect x="193" y="518" width="12" height="2" fill="#1e90ff"/>
<rect x="205" y="517" width="7" height="2" fill="#1e90ff"/>
<rect x="212" y="516" width="3" height="2" fill="#1e90ff"/>
<rect x="215" y="515" width="3" height="2" fill="#1e90ff"/>
<rect x="217" y="514" width="2" height="2" fill="#1e90ff"/>
<rect x="218" y="513" width="3" height="2" fill="#1e90ff"/>
<rect x="220" y="511" width="8" height="2" fill="#1e90ff"/>
<rect x="228" y="512" width="17" height="2" fill="#1e90ff"/>
<rect x="245" y="511" width="3" height="2" fill="#1e90ff"/>
<rect x="248" y="510" width="3" height="2" fill="#1e90ff"/>
<rect x="250" y="509" width="6" height="2" fill="#1e90ff"/>
<rect x="256" y="510" width="2" height="2" fill="#1e90ff"/>
<rect x="257" y="511" width="8" height="2" fill="#1e90ff"/>
<rect x="265" y="510" width="3" height="2" fill="#1e90ff"/>
<rect x="268" y="509" width="24" height="2" fill="#1e90ff"/>
<rect x="292" y="508" width="9" height="2" fill="#1e90ff"/>
<rect x="301" y="507" width="4" height="2" fill="#1e90ff"/>
<rect x="305" y="506" width="4" height="2" fill="#1e90ff"/>
<rect x="309" y="505" width="32" height="2" fill="#1e90ff"/>
<rect x="341" y="504" width="8" height="2" fill="#1e90ff"/>
<rect x="349" y="505" width="3" height="2" fill="#1e90ff"/>
<rect x="351" y="506" width="3" height="2" fill="#1e90ff"/>
<rect x="353" y="507" width="2" height="2" fill="#1e90ff"/>
<rect x="354" y="508" width="2" height="2" fill="#1e90ff"/>
<rect x="355" y="509" width="5" height="2" fill="#1e90ff"/>
<rect x="360" y="508" width="3" height="2" fill="#1e90ff"/>
<rect x="362" y="507" width="3" height="2" fill="#1e90ff"/>
<rect x="365" y="506" width="8" height="2" fill="#1e90ff"/>
<rect x="373" y="505" width="40" height="2" fill="#1e90ff"/>
<rect x="413" y="504" width="8" height="2" fill="#1e90ff"/>
<rect x="421" y="505" width="15" height="2" fill="#1e90ff"/>
<rect x="436" y="506" width="3" height="2" fill="#1e90ff"/>
<rect x="438" y="507" width="3" height="2" fill="#1e90ff"/>
<rect x="440" y="508" width="2" height="2" fill="#1e90ff"/>
<rect x="441" y="509" width="3" height="2" fill="#1e90ff"/>
<rect x="443" y="510" width="3" height="2" fill="#1e90ff"/>
<rect x="445" y="511" width="3" height="2" fill="#1e90ff"/>
<rect x="447" y="512" width="3" height="2" fill="#1e90ff"/>
<rect x="449" y="513" width="3" height="2" fill="#1e90ff"/>
<rect x="451" y="514" width="3" height="2" fill="#1e90ff"/>
<rect x="453" y="515" width="2" height="2" fill="#1e90ff"/>
<rect x="454" y="516" width="2" height="2" fill="#1e90ff"/>
<rect x="455" y="517" width="2" height="2" fill="#1e90ff"/>
<rect x="456" y="518" width="3" height="2" fill="#1e90ff"/>
<rect x="458" y="519" width="2" height="2" fill="#1e90ff"/>
<rect x="459" y="520" width="2" height="2" fill="#1e90ff"/>
<rect x="460" y="522" width="5" height="2" fill="#1e90ff"/>
<rect x="465" y="521" width="12" height="2" fill="#1e90ff"/>
<rect x="477" y="522" width="3" height="2" fill="#1e90ff"/>
<rect x="480" y="523" width="3" height="2" fill="#1e90ff"/>
<rect x="482" y="524" width="3" height="2" fill="#1e90ff"/>
<rect x="484" y="525" width="5" height="2" fill="#1e90ff"/>
<rect x="489" y="526" width="52" height="2" fill="#1e90ff"/>
<rect x="541" y="525" width="4" height="2" fill="#1e90ff"/>
<rect x="545" y="524" width="8" height="2" fill="#1e90ff"/>
<rect x="553" y="525" width="7" height="2" fill="#1e90ff"/>
<rect x="560" y="524" width="3" height="2" fill="#1e90ff"/>
<rect x="562" y="523" width="3" height="2" fill="#1e90ff"/>
<rect x="565" y="522" width="9" height="2" fill="#1e90ff"/>
<rect x="574" y="521" width="3" height="2" fill="#1e90ff"/>
<rect x="577" y="520" width="3" height="2" fill="#1e90ff"/>
<rect x="579" y="519" width="3" height="2" fill="#1e90ff"/>
<rect x="581" y="518" width="8" height="2" fill="#1e90ff"/>
<rect x="589" y="517" width="4" height="2" fill="#1e90ff"/>
<rect x="593" y="516" width="3" height="2" fill="#1e90ff"/>
<rect x="596" y="515" width="9" height="2" fill="#1e90ff"/>
<rect x="605" y="514" width="4" height="2" fill="#1e90ff"/>
<rect x="609" y="513" width="4" height="2" fill="#1e90ff"/>
<rect x="613" y="512" width="8" height="2" fill="#1e90ff"/>
<rect x="621" y="511" width="3" height="2" fill="#1e90ff"/>
<rect x="624" y="510" width="5" height="2" fill="#1e90ff"/>
<rect x="629" y="509" width="7" height="2" fill="#1e90ff"/>
<rect x="636" y="510" width="4" height="2" fill="#1e90ff"/>
<rect x="640" y="511" width="2" height="2" fill="#1e90ff"/>
<rect x="641" y="512" width="4" height="2" fill="#1e90ff"/>
<rect x="645" y="513" width="2" height="2" fill="#1e90ff"/>
<rect x="646" y="514" width="2" height="2" fill="#1e90ff"/>
<rect x="647" y="515" width="2" height="2" fill="#1e90ff"/>
<rect x="648" y="516" width="2" height="2" fill="#1e90ff"/>
<rect x="648" y="517" width="2" height="2" fill="#1e90ff"/>
<rect x="649" y="518" width="2" height="2" fill="#1e90ff"/>
<rect x="650" y="519" width="2" height="2" fill="#1e90ff"/>
<rect x="651" y="520" width="2" height="2" fill="#1e90ff"/>
<rect x="652" y="522" width="2" height="2" fill="#1e90ff"/>
<rect x="652" y="523" width="5" height="2" fill="#1e90ff"/>
<rect x="657" y="522" width="20" height="2" fill="#1e90ff"/>
<rect x="677" y="523" width="7" height="2" fill="#1e90ff"/>
<rect x="684" y="524" width="17" height="2" fill="#1e90ff"/>
<rect x="701" y="525" width="16" height="2" fill="#1e90ff"/>
<rect x="717" y="526" width="34" height="2" fill="#1e90ff"/>
<rect x="751" y="525" width="3" height="2" fill="#1e90ff"/>
<rect x="753" y="524" width="4" height="2" fill="#1e90ff"/>
<rect x="757" y="523" width="15" height="2" fill="#1e90ff"/>
<rect x="772" y="522" width="3" height="2" fill="#1e90ff"/>
<rect x="774" y="521" width="3" height="2" fill="#1e90ff"/>
<rect x="777" y="520" width="3" height="2" fill="#1e90ff"/>
<rect x="779" y="519" width="3" height="2" fill="#1e90ff"/>
<rect x="781" y="518" width="8" height="2" fill="#1e90ff"/>
<rect x="789" y="517" width="7" height="2" fill="#1e90ff"/>
<rect x="796" y="516" width="5" height="2" fill="#1e90ff"/>
<rect x="801" y="515" width="4" height="2" fill="#1e90ff"/>
<rect x="805" y="514" width="11" height="2" fill="#1e90ff"/>
<rect x="816" y="513" width="13" height="2" fill="#1e90ff"/>
<rect x="829" y="514" width="19" height="2" fill="#1e90ff"/>
<rect x="848" y="515" width="3" height="2" fill="#1e90ff"/>
<rect x="850" y="516" width="3" height="2" fill="#1e90ff"/>
<rect x="853" y="517" width="4" height="2" fill="#1e90ff"/>
<rect x="857" y="518" width="13" height="2" fill="#1e90ff"/>
<rect x="870" y="519" width="3" height="2" fill="#1e90ff"/>
<rect x="872" y="520" width="3" height="2" fill="#1e90ff"/>
<rect x="874" y="521" width="14" height="2" fill="#1e90ff"/>
<rect x="888" y="522" width="4" height="2" fill="#1e90ff"/>
<rect x="892" y="523" width="4" height="2" fill="#1e90ff"/>
<rect x="896" y="524" width="21" height="2" fill="#1e90ff"/>
</g>
<text x="7.8" y="509" font-size="10" fill="#000" stroke="#000" stroke-width="0.15" textLength="32.8" lengthAdjust="spacingAndGlyphs">RSI(14)</text>
<text x="42.6" y="509" font-size="10" fill="#000" stroke="#000" stroke-width="0.15" textLength="33.6" lengthAdjust="spacingAndGlyphs">42.6898</text>
<rect x="1167" y="498" width="1" height="1" fill="#000"/>
<rect x="1167" y="543" width="1" height="1" fill="#000"/>
<text x="1170" y="507" font-size="10" fill="#000" stroke="#000" stroke-width="0.15" textLength="15.2" lengthAdjust="spacingAndGlyphs">100</text>
<text x="1170" y="515" font-size="10" fill="#000" stroke="#000" stroke-width="0.15" textLength="9.6" lengthAdjust="spacingAndGlyphs">70</text>
<text x="1170" y="534" font-size="10" fill="#000" stroke="#000" stroke-width="0.15" textLength="9.6" lengthAdjust="spacingAndGlyphs">30</text>
<text x="1170" y="541" font-size="10" fill="#000" stroke="#000" stroke-width="0.15" textLength="5" lengthAdjust="spacingAndGlyphs">0</text>
<rect x="4" y="545" width="1" height="3" fill="#000"/>
<text x="3.5" y="557" font-size="10" fill="#000" stroke="#000" stroke-width="0.15" textLength="51.45" lengthAdjust="spacingAndGlyphs">14 Mar 2022</text>
<rect x="68" y="545" width="1" height="3" fill="#000"/>
<text x="67.44" y="557" font-size="10" fill="#000" stroke="#000" stroke-width="0.15" textLength="51.5" lengthAdjust="spacingAndGlyphs">23 Mar 2022</text>
<rect x="132" y="545" width="1" height="3" fill="#000"/>
<text x="130.95" y="557" font-size="10" fill="#000" stroke="#000" stroke-width="0.15" textLength="45.37" lengthAdjust="spacingAndGlyphs">1 Apr 2022</text>
<rect x="196" y="545" width="1" height="3" fill="#000"/>
<text x="195.38" y="557" font-size="10" fill="#000" stroke="#000" stroke-width="0.15" textLength="51.19" lengthAdjust="spacingAndGlyphs">11 Apr 2022</text>
<rect x="260" y="545" width="1" height="3" fill="#000"/>
<text x="259.23" y="557" font-size="10" fill="#000" stroke="#000" stroke-width="0.15" textLength="51.31" lengthAdjust="spacingAndGlyphs">20 Apr 2022</text>
<rect x="324" y="545" width="1" height="3" fill="#000"/>
<text x="323.23" y="557" font-size="10" fill="#000" stroke="#000" stroke-width="0.15" textLength="50.63" lengthAdjust="spacingAndGlyphs">29 Apr 2022</text>
<rect x="388" y="545" width="1" height="3" fill="#000"/>
<text x="386.77" y="557" font-size="10" fill="#000" stroke="#000" stroke-width="0.15" textLength="50.28" lengthAdjust="spacingAndGlyphs">9 May 2022</text>
<rect x="452" y="545" width="1" height="3" fill="#000"/>
<text x="451.22" y="557" font-size="10" fill="#000" stroke="#000" stroke-width="0.15" textLength="54.47" lengthAdjust="spacingAndGlyphs">18 May 2022</text>
<rect x="516" y="545" width="1" height="3" fill="#000"/>
<text x="514.34" y="557" font-size="10" fill="#000" stroke="#000" stroke-width="0.15" textLength="55.13" lengthAdjust="spacingAndGlyphs">27 May 2022</text>
<rect x="580" y="545" width="1" height="3" fill="#000"/>
<text x="578.35" y="557" font-size="10" fill="#000" stroke="#000" stroke-width="0.15" textLength="45.95" lengthAdjust="spacingAndGlyphs">6 Jun 2022</text>
<rect x="644" y="545" width="1" height="3" fill="#000"/>
<text x="643.2" y="557" font-size="10" fill="#000" stroke="#000" stroke-width="0.15" textLength="49.89" lengthAdjust="spacingAndGlyphs">15 Jun 2022</text>
<rect x="708" y="545" width="1" height="3" fill="#000"/>
<text x="707.05" y="557" font-size="10" fill="#000" stroke="#000" stroke-width="0.15" textLength="49.88" lengthAdjust="spacingAndGlyphs">24 Jun 2022</text>
<rect x="772" y="545" width="1" height="3" fill="#000"/>
<text x="771.85" y="557" font-size="10" fill="#000" stroke="#000" stroke-width="0.15" textLength="40.47" lengthAdjust="spacingAndGlyphs">4 Jul 2022</text>
<rect x="836" y="545" width="1" height="3" fill="#000"/>
<text x="835.9" y="557" font-size="10" fill="#000" stroke="#000" stroke-width="0.15" textLength="45.95" lengthAdjust="spacingAndGlyphs">13 Jul 2022</text>
<rect x="900" y="545" width="1" height="3" fill="#000"/>
<text x="899.27" y="557" font-size="10" fill="#000" stroke="#000" stroke-width="0.15" textLength="46.49" lengthAdjust="spacingAndGlyphs">22 Jul 2022</text>
<rect x="0" y="565" width="1208" height="2" fill="#e9e9e9"/>
<rect x="0" y="567" width="1208" height="1" fill="#000"/>
<rect x="0" y="568" width="1208" height="22" fill="#f0f0f0"/>
<rect x="0" y="587" width="1208" height="1" fill="#fcfcfc"/>
<rect x="0" y="568" width="1" height="18" fill="#000"/>
<rect x="221" y="567" width="108" height="19" fill="#000"/>
<rect x="222" y="567" width="106" height="18" fill="#fff"/>
<rect x="329" y="568" width="1" height="18" fill="#fbfbfb"/>
<rect x="1" y="568" width="220" height="1" fill="#f7f7f7"/>
<rect x="329" y="568" width="879" height="1" fill="#f7f7f7"/>
<text x="15.96" y="582" font-size="12.5" fill="#737373" stroke="#737373" stroke-width="0.15" textLength="85.0" lengthAdjust="spacingAndGlyphs">EURUSD-,Daily</text>
<text x="123.24" y="582" font-size="12.5" fill="#737373" stroke="#737373" stroke-width="0.15" textLength="86.99" lengthAdjust="spacingAndGlyphs">AUDUSD-,Daily</text>
<text x="232.98" y="582" font-size="12.5" fill="#000" stroke="#000" stroke-width="0.15" textLength="83.97" lengthAdjust="spacingAndGlyphs">USDCHF-,Daily</text>
<text x="339.86" y="582" font-size="12.5" fill="#737373" stroke="#737373" stroke-width="0.15" textLength="86.51" lengthAdjust="spacingAndGlyphs">USDCAD-,Daily</text>
<text x="448.42" y="582" font-size="12.5" fill="#737373" stroke="#737373" stroke-width="0.15" textLength="88.05" lengthAdjust="spacingAndGlyphs">USDCNH-,Daily</text>
<text x="559.23" y="582" font-size="12.5" fill="#737373" stroke="#737373" stroke-width="0.15" textLength="86.77" lengthAdjust="spacingAndGlyphs">XAUUSD-,Daily</text>
<text x="667.54" y="582" font-size="12.5" fill="#737373" stroke="#737373" stroke-width="0.15" textLength="69.59" lengthAdjust="spacingAndGlyphs">UKOil-,Daily</text>
<text x="760.14" y="582" font-size="12.5" fill="#737373" stroke="#737373" stroke-width="0.15" textLength="57.33" lengthAdjust="spacingAndGlyphs">USOil-,H4</text>
<text x="838.4" y="582" font-size="12.5" fill="#737373" stroke="#737373" stroke-width="0.15" textLength="55.6" lengthAdjust="spacingAndGlyphs">HK50-,H1</text>
<text x="914.72" y="582" font-size="12.5" fill="#737373" stroke="#737373" stroke-width="0.15" textLength="71.5" lengthAdjust="spacingAndGlyphs">EURCHF-,H1</text>
<text x="1008.35" y="582" font-size="12.5" fill="#737373" stroke="#737373" stroke-width="0.15" textLength="57.31" lengthAdjust="spacingAndGlyphs">USOil-,H4</text>
<text x="1087.54" y="582" font-size="12.5" fill="#737373" stroke="#737373" stroke-width="0.15" textLength="57.87" lengthAdjust="spacingAndGlyphs">UKOil-,H4</text>
<rect x="113" y="570" width="1" height="14" fill="#4a4a4a"/>
<rect x="437" y="570" width="1" height="14" fill="#4a4a4a"/>
<rect x="549" y="570" width="1" height="14" fill="#4a4a4a"/>
<rect x="657" y="570" width="1" height="14" fill="#4a4a4a"/>
<rect x="749" y="570" width="1" height="14" fill="#4a4a4a"/>
<rect x="829" y="570" width="1" height="14" fill="#4a4a4a"/>
<rect x="905" y="570" width="1" height="14" fill="#4a4a4a"/>
<rect x="997" y="570" width="1" height="14" fill="#4a4a4a"/>
<rect x="1077" y="570" width="1" height="14" fill="#4a4a4a"/>
<rect x="1157" y="570" width="1" height="14" fill="#4a4a4a"/>
<rect x="1182" y="576" width="1" height="1" fill="#000"/>
<rect x="1204" y="576" width="1" height="1" fill="#8e8e8e"/>
<rect x="1183" y="575" width="1" height="3" fill="#000"/>
<rect x="1203" y="575" width="1" height="3" fill="#8e8e8e"/>
<rect x="1184" y="574" width="1" height="5" fill="#000"/>
<rect x="1202" y="574" width="1" height="5" fill="#8e8e8e"/>
<rect x="1185" y="573" width="1" height="7" fill="#000"/>
<rect x="1201" y="573" width="1" height="7" fill="#8e8e8e"/>
</svg>
</body></html>
